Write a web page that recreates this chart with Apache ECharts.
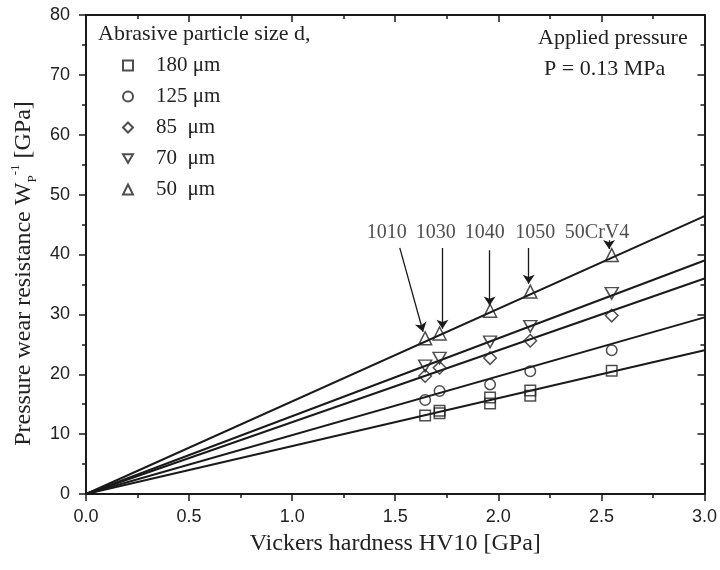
<!DOCTYPE html>
<html><head><meta charset="utf-8">
<script src="https://cdn.jsdelivr.net/npm/echarts@6/dist/echarts.min.js"></script>
<style>html,body{margin:0;padding:0;background:#fff}#c{width:720px;height:570px}</style>
</head><body><div id="c"></div>
<script>
// ---- data ----
const hardness = [1.645, 1.715, 1.96, 2.155, 2.55];
const steelNames = ['1010', '1030', '1040', '1050', '50CrV4'];
const sizeNames = ['180 μm', '125 μm', '85  μm', '70  μm', '50  μm'];
const wp180 = [13.1, 13.9, 16.1, 17.3, 20.6];
const wp180rep = [null, 13.5, 15.1, 16.4, null];
const wp125 = [15.7, 17.2, 18.3, 20.5, 24.0];
const wp85 = [19.7, 21.1, 22.7, 25.6, 29.8];
const wp70 = [21.4, 22.7, 25.4, 28.0, 33.5];
const wp50 = [26.0, 26.8, 30.6, 33.8, 39.9];
const fitX = [0, 3.0];
const fitStart = [0, 0, 0, 0, 0];
const fitEnd = [24.0, 29.5, 36.0, 39.0, 46.4];
const labelX = [1.459, 1.697, 1.934, 2.179, 2.479];
const labelY = [43.6, 43.6, 43.6, 43.6, 43.6];
const arrowFrom = [[1.522, 41.1], [1.729, 41.1], [1.958, 40.7], [2.147, 41.1], [2.537, 42.4]];
const arrowTo = [[1.635, 27.1], [1.729, 27.6], [1.958, 31.5], [2.147, 35.1], [2.537, 40.9]];
const xMin = 0, xMax = 3, xStep = 0.5;
const yMin = 0, yMax = 80, yStep = 10;

// ---- styles ----
const INK = '#1a1a1a';
const SERIF = 'Liberation Serif';
const SANS = 'Liberation Sans';
const DOWN_TRI = 'path://M0,0 L10,0 L5,8.66 Z';
const symbols = ['rect', 'circle', 'diamond', DOWN_TRI, 'triangle'];
const symSizes = [10.5, 10.5, 12.5, [13, 11.5], 13];
const values = [wp180, wp125, wp85, wp70, wp50];

const chart = echarts.init(document.getElementById('c'), null, {renderer: 'canvas'});

const series = [];
fitEnd.forEach((e, i) => {
  series.push({
    type: 'line', name: 'fit' + i, silent: true, symbol: 'none', z: 1,
    data: [[fitX[0], fitStart[i]], [fitX[1], e]],
    lineStyle: {color: INK, width: 2}
  });
});
function markerSeries(i, vals) {
  return {
    type: 'scatter', name: sizeNames[i], z: 3,
    symbol: symbols[i], symbolSize: symSizes[i],
    itemStyle: {color: 'rgba(255,255,255,0)', borderColor: '#222', borderWidth: 1.5},
    data: hardness.map((h, k) => vals[k] == null ? null : [h, vals[k]]).filter(d => d)
  };
}
values.forEach((v, i) => series.push(markerSeries(i, v)));
series.push(markerSeries(0, wp180rep));
series.push({
  type: 'scatter', name: 'steels', symbolSize: 0, silent: true,
  data: steelNames.map((n, i) => ({name: n, value: [labelX[i], labelY[i]]})),
  label: {show: true, position: 'inside', formatter: '{b}', fontFamily: SERIF, fontSize: 20, color: '#222'}
});
series.push({
  type: 'lines', coordinateSystem: 'cartesian2d', silent: true, z: 4,
  symbol: ['none', 'arrow'], symbolSize: 9,
  lineStyle: {color: INK, width: 1.3, opacity: 1, curveness: 0},
  data: arrowFrom.map((f, i) => ({coords: [f, arrowTo[i]]}))
});

const axisLine = {onZero: false, lineStyle: {color: INK, width: 2}};
function xAxis(pos, main) {
  return {
    type: 'value', position: pos, min: xMin, max: xMax, interval: xStep,
    axisLine: axisLine,
    axisTick: {show: true, inside: !main, length: 7, lineStyle: {color: INK, width: 1.5}},
    minorTick: {show: true, splitNumber: 2, length: 4, lineStyle: {color: INK, width: 1.5}},
    splitLine: {show: false},
    axisLabel: {show: main, formatter: v => v.toFixed(1), fontFamily: SANS, fontSize: 18, color: '#222', margin: 14},
    name: main ? 'Vickers hardness HV10 [GPa]' : '', nameLocation: 'middle', nameGap: 38,
    nameTextStyle: {fontFamily: SERIF, fontSize: 24, color: '#222'}
  };
}
function yAxis(pos, main) {
  return {
    type: 'value', position: pos, min: yMin, max: yMax, interval: yStep,
    axisLine: axisLine,
    axisTick: {show: true, inside: !main, length: 7, lineStyle: {color: INK, width: 1.5}},
    minorTick: {show: true, splitNumber: 2, length: 4, lineStyle: {color: INK, width: 1.5}},
    splitLine: {show: false},
    axisLabel: {show: main, fontFamily: SANS, fontSize: 18, color: '#222', margin: 16},
    name: main ? '{t|Pressure wear resistance W}{s|P}{u|-1}{t| [GPa]}' : '',
    nameLocation: 'middle', nameGap: 34, nameRotate: 90,
    nameTextStyle: {
      color: '#222', padding: [0, 38, 0, 0],
      rich: {
        t: {fontFamily: SERIF, fontSize: 24, color: '#222', lineHeight: 30},
        s: {fontFamily: SERIF, fontSize: 13, color: '#222', verticalAlign: 'bottom', lineHeight: 14},
        u: {fontFamily: SERIF, fontSize: 13, color: '#222', verticalAlign: 'top', lineHeight: 14}
      }
    }
  };
}

const tStyle = {fontFamily: SERIF, fontSize: 22, fontWeight: 'normal', color: '#222'};
chart.setOption({
  animation: false,
  backgroundColor: '#fff',
  grid: {left: 86, right: 15, top: 15, bottom: 76},
  title: [
    {text: 'Abrasive particle size d,', left: 98, top: 23, padding: 0, textStyle: tStyle},
    {text: 'Applied pressure', left: 538, top: 27, padding: 0, textStyle: tStyle},
    {text: 'P = 0.13 MPa', left: 544, top: 58, padding: 0, textStyle: tStyle}
  ],
  legend: {
    data: sizeNames.map((n, i) => ({name: n, icon: symbols[i]})),
    orient: 'vertical', left: 122, top: 55, padding: 0,
    itemWidth: 10, itemHeight: 10, itemGap: 10, selectedMode: false,
    textStyle: {fontFamily: SERIF, fontSize: 21, color: '#222', lineHeight: 20, padding: [0, 0, 0, 18]}
  },
  xAxis: [xAxis('bottom', true), xAxis('top', false)],
  yAxis: [yAxis('left', true), yAxis('right', false)],
  series: series
});
</script></body></html>
